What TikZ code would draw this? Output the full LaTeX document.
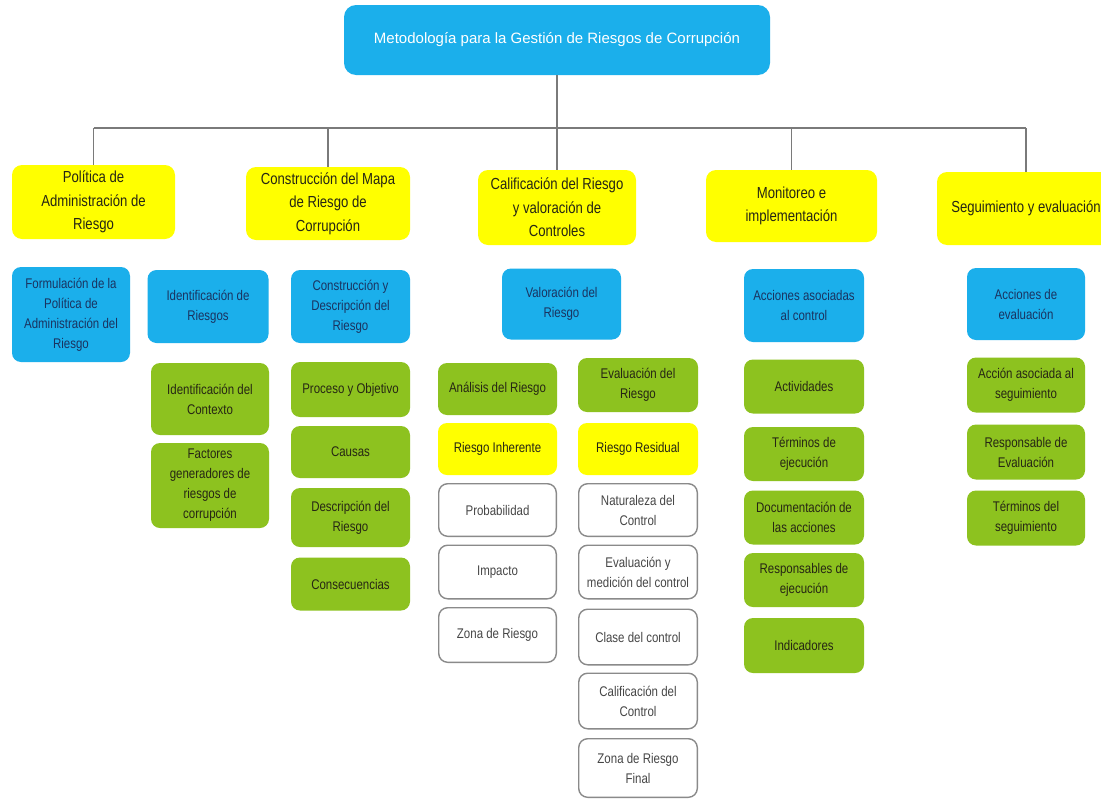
\documentclass[tikz,border=0pt]{standalone}
\usepackage{fontspec}
\setmainfont{Liberation Sans}[FakeStretch=0.82]
\newfontfamily\titlefont{Liberation Sans}
\definecolor{cblue}{HTML}{1BAFEB}
\definecolor{cyellow}{HTML}{FFFF00}
\definecolor{cgreen}{HTML}{8DC21F}
\definecolor{cnavy}{HTML}{1A3360}
\definecolor{cdark}{HTML}{262614}
\definecolor{cgrayline}{HTML}{8A8A8A}
\definecolor{cwtext}{HTML}{464646}
\definecolor{cconn}{HTML}{7A7A7A}
\tikzset{
  basebox/.style={rounded corners=9pt, align=center, inner sep=1pt,
    font=\fontsize{14}{20}\selectfont},
  bbox/.style 2 args={basebox, fill=cblue, text=cnavy, minimum width=#1, minimum height=#2},
  gbox/.style 2 args={basebox, fill=cgreen, text=cdark, minimum width=#1, minimum height=#2},
  ybox/.style 2 args={basebox, fill=cyellow, text=cdark, minimum width=#1, minimum height=#2},
  wbox/.style 2 args={basebox, draw=cgrayline, line width=1.4pt, fill=white, text=cwtext,
    minimum width=#1-1.4, minimum height=#2-1.4},
  lvlone/.style 2 args={basebox, rounded corners=10pt, fill=cyellow, text=cdark,
    font=\fontsize{16}{23.5}\selectfont, minimum width=#1, minimum height=#2},
  conn/.style={draw=cconn, line width=1.5pt},
}
\begin{document}
\begin{tikzpicture}[x=1pt,y=-1pt]
\useasboundingbox (0,0) rectangle (1101,806);
\clip (0,0) rectangle (1101,806);
\fill[white] (0,0) rectangle (1101,806);

% top
\node[basebox, rounded corners=12pt, fill=cblue, text=white, minimum width=426, minimum height=70,
  font=\titlefont\fontsize{15}{18}\selectfont] (top) at (557,40)
  {Metodología para la Gestión de Riesgos de Corrupción};

% level one
\node[lvlone={163}{74}] (pol) at (93.5,202) {Política de\\Administración de\\Riesgo};
\node[lvlone={164}{73}] (mapa) at (328,203.5) {Construcción del Mapa\\de Riesgo de\\Corrupción};
\node[lvlone={158}{75}] (calif) at (557,207.5) {Calificación del Riesgo\\y valoración de\\Controles};
\node[lvlone={171}{72}] (moni) at (791.5,206) {Monitoreo e\\implementación};
\node[lvlone={178}{73}] (seg) at (1026,208.5) {Seguimiento y evaluación};

% connectors
\coordinate (bar) at (557,128);
\draw[conn] (top.south) -- (calif.north);
\draw[conn] (pol.north |- bar) -- (seg.north |- bar);
\foreach \n in {pol,mapa,moni,seg} { \draw[conn] (\n.north) -- (\n.north |- bar); }

% level two (blue)
\node[bbox={118}{95}] (form) at (71,314.5) {Formulación de la\\Política de\\Administración del\\Riesgo};
\node[bbox={121}{73}] (ident) at (208,306.5) {Identificación de\\Riesgos};
\node[bbox={119}{73}] (cdesc) at (350.5,306.5) {Construcción y\\Descripción del\\Riesgo};
\node[bbox={119}{71}] (valor) at (561.5,304) {Valoración del\\Riesgo};
\node[bbox={120}{73}] (acc) at (804,305.5) {Acciones asociadas\\al control};
\node[bbox={118}{72}] (acce) at (1026,304) {Acciones de\\evaluación};

% Identificación column
\node[gbox={118}{72}] (ictx) at (210,399) {Identificación del\\Contexto};
\node[gbox={118}{85}] (fact) at (210,485.5) {Factores\\generadores de\\riesgos de\\corrupción};

% Construcción column
\node[gbox={119}{55}] (proc) at (350.5,389.5) {Proceso y Objetivo};
\node[gbox={119}{52}] (caus) at (350.5,452) {Causas};
\node[gbox={119}{59}] (desc) at (350.5,517.5) {Descripción del\\Riesgo};
\node[gbox={119}{53}] (cons) at (350.5,584) {Consecuencias};

% Análisis column
\node[gbox={119}{52}] (anal) at (497.5,389) {Análisis del Riesgo};
\node[ybox={119}{52}] (rinh) at (497.5,449) {Riesgo Inherente};
\node[wbox={119}{54}] (prob) at (497.5,510) {Probabilidad};
\node[wbox={119}{55}] (imp) at (497.5,572) {Impacto};
\node[wbox={119}{56}] (zona) at (497.5,635) {Zona de Riesgo};

% Evaluación column
\node[gbox={120}{54}] (eval) at (638,385) {Evaluación del\\Riesgo};
\node[ybox={120}{52}] (rres) at (638,449) {Riesgo Residual};
\node[wbox={120}{54}] (nat) at (638,510) {Naturaleza del\\Control};
\node[wbox={120}{55}] (med) at (638,572) {Evaluación y\\medición del control};
\node[wbox={120}{57}] (clase) at (638,637) {Clase del control};
\node[wbox={120}{57}] (calc) at (638,701) {Calificación del\\Control};
\node[wbox={120}{60}] (zfin) at (638,768) {Zona de Riesgo\\Final};

% Monitoreo column
\node[gbox={120}{54}] (act) at (804,386.5) {Actividades};
\node[gbox={120}{54}] (term) at (804,454) {Términos de\\ejecución};
\node[gbox={120}{54}] (doc) at (804,517.5) {Documentación de\\las acciones};
\node[gbox={120}{54}] (resp) at (804,580) {Responsables de\\ejecución};
\node[gbox={120}{55}] (ind) at (804,645.5) {Indicadores};

% Seguimiento column
\node[gbox={118}{55}] (aseg) at (1026,385) {Acción asociada al\\seguimiento};
\node[gbox={118}{55}] (reva) at (1026,452) {Responsable de\\Evaluación};
\node[gbox={118}{55}] (tseg) at (1026,518) {Términos del\\seguimiento};
\end{tikzpicture}
\end{document}
